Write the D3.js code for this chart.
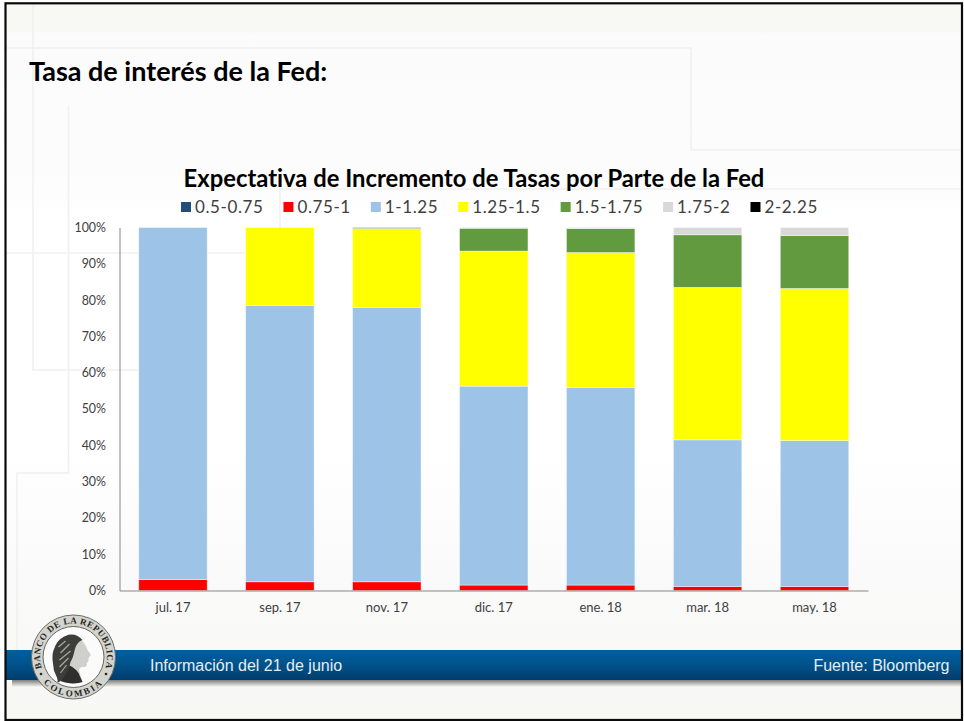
<!DOCTYPE html>
<html>
<head>
<meta charset="utf-8">
<script src="https://cdn.jsdelivr.net/npm/d3@7"></script>
<style>
  html, body { margin: 0; padding: 0; background: #fff; }
  svg { display: block; }
  text { font-family: Lato, "Open Sans", sans-serif; font-variant-ligatures: none; }
</style>
</head>
<body>
<script>
// values, percent of probability per meeting
var meetings = ["jul. 17", "sep. 17", "nov. 17", "dic. 17", "ene. 18", "mar. 18", "may. 18"];
var ranges = ["0.5-0.75", "0.75-1", "1-1.25", "1.25-1.5", "1.5-1.75", "1.75-2", "2-2.25"];
var rangeColors = ["#1f4e79", "#ff0000", "#9dc3e6", "#ffff00", "#629a40", "#d9d9d9", "#000000"];

var r050 = [0, 0, 0, 0, 0, 0, 0];
var r075 = [3, 2.4, 2.4, 1.5, 1.5, 1.1, 1.1];
var r100 = [97, 76.1, 75.6, 54.8, 54.4, 40.4, 40.2];
var r125 = [0, 21.5, 21.7, 37.2, 37.2, 42, 41.9];
var r150 = [0, 0, 0.3, 6.3, 6.6, 14.5, 14.6];
var r175 = [0, 0, 0, 0.2, 0.3, 2, 2.2];
var r200 = [0, 0, 0, 0, 0, 0, 0];
var rangeValues = [r050, r075, r100, r125, r150, r175, r200];

var yTicks = [0, 10, 20, 30, 40, 50, 60, 70, 80, 90, 100];

var svgWidth = 964;
var svgHeight = 721;

var Margin = { top: 227.5, right: 96, bottom: 130.5, left: 119.5 };
var Width = svgWidth - Margin.left - Margin.right;
var Height = svgHeight - Margin.top - Margin.bottom;

var svg = d3.select("body").append("svg")
  .attr("width", svgWidth)
  .attr("height", svgHeight);

var defs = svg.append("defs");

var bgGrad = defs.append("linearGradient").attr("id", "bg")
  .attr("x1", 0).attr("y1", 0).attr("x2", 0).attr("y2", 1);
[[0, "#f8f8f4"], [0.04, "#f8f8f4"], [0.042, "#fbfbfb"], [0.24, "#fcfcfc"], [0.3, "#ffffff"], [0.62, "#ffffff"], [0.8, "#fafafa"], [1, "#f7f7f4"]]
  .forEach(function(s) { bgGrad.append("stop").attr("offset", s[0]).attr("stop-color", s[1]); });

var bandGrad = defs.append("linearGradient").attr("id", "band")
  .attr("x1", 0).attr("y1", 0).attr("x2", 0).attr("y2", 1);
[[0, "#005f9f"], [0.5, "#00528b"], [1, "#013c6b"]]
  .forEach(function(s) { bandGrad.append("stop").attr("offset", s[0]).attr("stop-color", s[1]); });

var shadowGrad = defs.append("linearGradient").attr("id", "shadow")
  .attr("x1", 0).attr("y1", 0).attr("x2", 0).attr("y2", 1);
[[0, "#7d7d7d"], [1, "#f7f7f4"]]
  .forEach(function(s) { shadowGrad.append("stop").attr("offset", s[0]).attr("stop-color", s[1]); });

// slide background and the faint decoration lines
svg.append("rect")
  .attr("x", 5.5).attr("y", 3.3)
  .attr("width", 956.5).attr("height", 716.7)
  .attr("fill", "url(#bg)");

var decoration = [
  "M6,48H691V150H961",
  "M33,4V370H138",
  "M68.5,106V473H17V650",
  "M280,228V189H961",
  "M6,253H245"
];
svg.selectAll(".deco").data(decoration).enter().append("path")
  .attr("class", "deco")
  .attr("d", function(d) { return d; })
  .attr("fill", "none")
  .attr("stroke", "#f0f0f0")
  .attr("stroke-width", 1.5);

svg.append("text")
  .attr("x", 29).attr("y", 81)
  .attr("font-size", 27).attr("font-weight", 700)
  .attr("fill", "#000")
  .text("Tasa de interés de la Fed:");

svg.append("text")
  .attr("x", 474).attr("y", 187)
  .attr("text-anchor", "middle")
  .attr("font-size", 23.8).attr("font-weight", 700)
  .attr("fill", "#000")
  .text("Expectativa de Incremento de Tasas por Parte de la Fed");

// legend, flows left to right from the first swatch
var legendX = 181;
ranges.forEach(function(name, i) {
  svg.append("rect")
    .attr("x", legendX).attr("y", 202)
    .attr("width", 10).attr("height", 10)
    .attr("fill", rangeColors[i]);
  var label = svg.append("text")
    .attr("x", legendX + 14).attr("y", 213)
    .attr("font-size", 17)
    .attr("letter-spacing", 0.6)
    .attr("fill", "#404040")
    .text(name);
  legendX += 14 + label.node().getComputedTextLength() + 20;
});

var chartGroup = svg.append("g")
  .attr("transform", `translate(${Margin.left}, ${Margin.top})`);

var xScale = d3.scaleBand()
  .domain(meetings)
  .range([0, Width])
  .paddingInner(0.36)
  .paddingOuter(0.18);

var yScale = d3.scaleLinear()
  .domain([0, 100])
  .range([Height, 0]);

var rows = meetings.map(function(m, i) {
  var row = { meeting: m };
  ranges.forEach(function(name, j) { row[name] = rangeValues[j][i]; });
  return row;
});

var stacked = d3.stack().keys(ranges)(rows);

var layers = chartGroup.selectAll(".layer")
  .data(stacked)
  .enter().append("g")
  .attr("class", "layer")
  .attr("fill", function(d, i) { return rangeColors[i]; });

layers.selectAll("rect")
  .data(function(d) { return d.filter(function(p) { return p[1] > p[0]; }); })
  .enter().append("rect")
  .attr("x", function(d) { return xScale(d.data.meeting); })
  .attr("y", function(d) { return yScale(d[1]); })
  .attr("width", xScale.bandwidth())
  .attr("height", function(d) { return yScale(d[0]) - yScale(d[1]); })
  .attr("stroke", "#fff")
  .attr("stroke-opacity", 0.55)
  .attr("stroke-width", 0.75);

var leftAxis = d3.axisLeft(yScale)
  .tickValues(yTicks)
  .tickFormat(function(d) { return d + "%"; })
  .tickSize(0)
  .tickPadding(13.5);

var bottomAxis = d3.axisBottom(xScale)
  .tickSize(0)
  .tickPadding(12.5);

var yAxisG = chartGroup.append("g").call(leftAxis);
var xAxisG = chartGroup.append("g")
  .attr("transform", `translate(0, ${Height})`)
  .call(bottomAxis);

[yAxisG, xAxisG].forEach(function(g, i) {
  g.select(".domain").attr("stroke", "#868686").attr("stroke-width", 1);
  g.selectAll("text")
    .attr("fill", "#404040")
    .style("font-family", "Lato, sans-serif")
    .style("font-size", i == 0 ? "12.4px" : "13px");
});

// footer band
svg.append("rect")
  .attr("x", 12).attr("y", 680)
  .attr("width", 949).attr("height", 7)
  .attr("fill", "url(#shadow)");
svg.append("rect")
  .attr("x", 6).attr("y", 650)
  .attr("width", 955).attr("height", 30)
  .attr("fill", "url(#band)");

svg.append("text")
  .attr("x", 150).attr("y", 671)
  .attr("font-size", 16)
  .attr("fill", "#e4edf5")
  .style("font-family", "'Liberation Sans', sans-serif")
  .text("Información del 21 de junio");

svg.append("text")
  .attr("x", 949.5).attr("y", 671)
  .attr("text-anchor", "end")
  .attr("font-size", 16)
  .attr("fill", "#e4edf5")
  .style("font-family", "'Liberation Sans', sans-serif")
  .text("Fuente: Bloomberg");

// bank seal
var seal = svg.append("g").attr("transform", "translate(73.5, 657)");
seal.append("circle").attr("r", 42).attr("fill", "#d4d4cf").attr("stroke", "#6d6d66").attr("stroke-width", 1);
seal.append("circle").attr("r", 30.5).attr("fill", "#fbfbfb").attr("stroke", "#66665f").attr("stroke-width", 1);

defs.append("path").attr("id", "sealTop").attr("d", "M-32,10A33.5,33.5 0 1 1 32,10");
defs.append("path").attr("id", "sealBottom").attr("d", "M-39.5,0A39.5,39.5 0 0 0 39.5,0");

seal.append("text")
  .attr("font-size", 9).attr("font-weight", 700).attr("letter-spacing", 0.5)
  .attr("fill", "#26261f")
  .style("font-family", "'Liberation Serif', serif")
  .append("textPath").attr("href", "#sealTop").attr("startOffset", "50%").attr("text-anchor", "middle")
  .text("BANCO DE LA REPUBLICA");

seal.append("text")
  .attr("font-size", 9).attr("font-weight", 700).attr("letter-spacing", 2.2)
  .attr("fill", "#26261f")
  .style("font-family", "'Liberation Serif', serif")
  .append("textPath").attr("href", "#sealBottom").attr("startOffset", "50%").attr("text-anchor", "middle")
  .text("COLOMBIA");

seal.selectAll(".dot").data([-1, 1]).enter().append("circle")
  .attr("class", "dot")
  .attr("cx", function(d) { return d * 32.5; })
  .attr("cy", 17)
  .attr("r", 1.3)
  .attr("fill", "#26261f");

// profile of the head, facing right
seal.append("path")
  .attr("d", "M8,-17C11,-14 13,-10 14,-7C15,-5 18,-3 17,-1C15,0 15,1 15,3C15,5 14,5 13,6C14,8 13,10 10,10C7,10 5,11 6,15L9,25C2,27 -8,27 -13,24L-6,-10Z")
  .attr("fill", "#cfcfcb");
seal.append("path")
  .attr("d", "M-5,8C0,10 3,13 5,16L9,25C4,27 -6,27 -13,24L-8,10Z")
  .attr("fill", "#2f2f2d");
seal.append("path")
  .attr("d", "M-8,-21C-2,-24 5,-22 9,-17C4,-15 2,-11 1,-6C0,-2 -1,2 -3,5C-4,9 -5,14 -8,18C-12,23 -14,26 -16,25C-15,20 -20,16 -20,10C-21,3 -22,-3 -19,-9C-17,-15 -13,-19 -8,-21Z")
  .attr("fill", "#3d3d3a");
// wreath leaves
seal.append("g").selectAll("path")
  .data(["M-15,-10L-8,-16", "M-13,-4L-4,-13", "M-14,3L-3,-6", "M-14,10L-5,1", "M-13,16L-7,8"])
  .enter().append("path")
  .attr("d", function(d) { return d; })
  .attr("stroke", "#a8a8a4")
  .attr("stroke-width", 1.2)
  .attr("fill", "none");

// slide frame
svg.append("rect")
  .attr("x", 5.5).attr("y", 3.3)
  .attr("width", 956.5).attr("height", 716.7)
  .attr("fill", "none")
  .attr("stroke", "#0a0a0a")
  .attr("stroke-width", 2.2);
</script>
</body>
</html>
